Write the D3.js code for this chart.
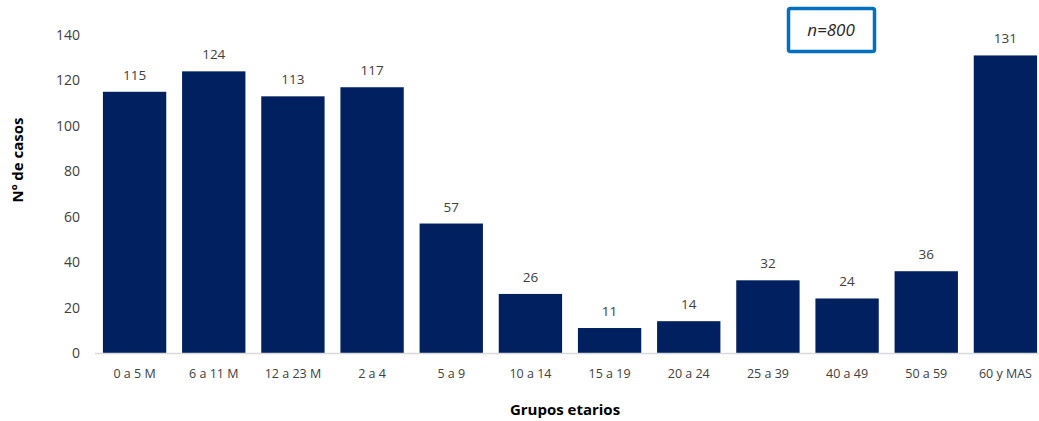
<!doctype html>
<html lang="es">
<head>
    <meta charset="utf-8">
    <title>Grupos etarios</title>
    <script src="https://d3js.org/d3.v7.min.js"></script>
    <style>
        body { margin: 0; background: #fff; }
        text { font-family: "Open Sans", "Liberation Sans", sans-serif; }
    </style>
</head>
<body>
<div id="chart"></div>
<script>
    const grupos = ['0 a 5 M', '6 a 11 M', '12 a 23 M', '2 a 4', '5 a 9', '10 a 14',
                    '15 a 19', '20 a 24', '25 a 39', '40 a 49', '50 a 59', '60 y MAS']
    const casos = [115, 124, 113, 117, 57, 26, 11, 14, 32, 24, 36, 131]
    const yTicks = [0, 20, 40, 60, 80, 100, 120, 140]

    const width = 1039, height = 421
    const margin = {top: 35, right: 0, bottom: 68, left: 95}

    const svg = d3.select('#chart').append('svg')
        .attr('width', width)
        .attr('height', height)

    const x = d3.scaleBand()
        .domain(grupos)
        .range([margin.left, 1045])
        .paddingInner(0.2)
        .paddingOuter(0.1)

    const y = d3.scaleLinear()
        .domain([0, 140])
        .range([height - margin.bottom, margin.top])

    // eje y (solo etiquetas)
    const yAxis = svg.append('g')
        .attr('transform', `translate(${margin.left},0)`)
        .call(d3.axisLeft(y).tickValues(yTicks).tickSize(0).tickPadding(15))
    yAxis.select('.domain').remove()
    yAxis.selectAll('text').attr('font-size', 14).attr('fill', '#404040')

    // barras
    svg.append('g').selectAll('rect')
        .data(casos)
        .join('rect')
        .attr('x', (d, i) => x(grupos[i]))
        .attr('y', d => y(d))
        .attr('width', x.bandwidth())
        .attr('height', d => y(0) - y(d))
        .attr('fill', '#002060')

    svg.append('g').selectAll('text')
        .data(casos)
        .join('text')
        .attr('x', (d, i) => x(grupos[i]) + x.bandwidth() / 2)
        .attr('y', d => y(d) - 12)
        .attr('text-anchor', 'middle')
        .attr('font-size', 13.5)
        .attr('fill', '#404040')
        .text(d => d)

    // eje x
    const xAxis = svg.append('g')
        .attr('transform', `translate(0,${y(0)})`)
        .call(d3.axisBottom(x).tickSize(0).tickPadding(16))
    xAxis.select('.domain').attr('stroke', '#d9d9d9').attr('stroke-width', 1.3)
        .attr('d', `M${margin.left},0.5H${width}`)
    xAxis.selectAll('text').attr('font-size', 12.5).attr('fill', '#404040')

    // titulos
    svg.append('text')
        .attr('transform', `translate(23,160) rotate(-90)`)
        .attr('text-anchor', 'middle')
        .attr('font-size', 15)
        .attr('font-weight', 'bold')
        .attr('fill', '#000')
        .text('Nº de casos')

    svg.append('text')
        .attr('x', 565)
        .attr('y', 415)
        .attr('text-anchor', 'middle')
        .attr('font-size', 15)
        .attr('font-weight', 'bold')
        .attr('fill', '#000')
        .text('Grupos etarios')

    // recuadro n=800
    svg.append('rect')
        .attr('x', 788.5)
        .attr('y', 8.5)
        .attr('width', 86)
        .attr('height', 43)
        .attr('rx', 2)
        .attr('fill', '#fff')
        .attr('stroke', '#0070c0')
        .attr('stroke-width', 3.5)

    svg.append('text')
        .attr('x', 831)
        .attr('y', 36)
        .attr('text-anchor', 'middle')
        .attr('font-size', 17)
        .attr('font-style', 'italic')
        .attr('fill', '#262626')
        .text('n=800')
</script>
</body>
</html>
